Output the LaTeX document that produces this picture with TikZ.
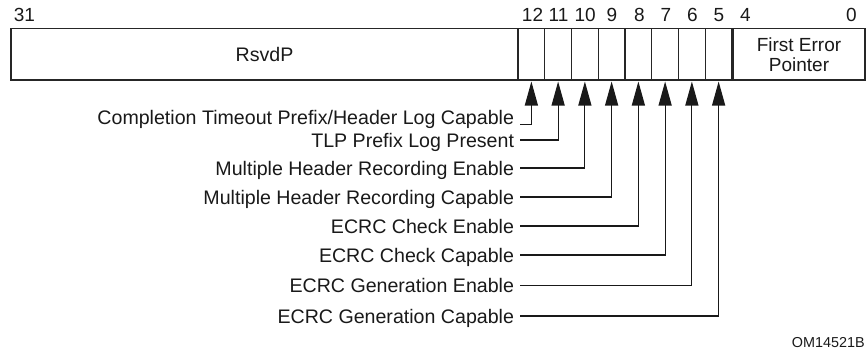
\documentclass[tikz,border=0pt]{standalone}
\usepackage{fontspec}
\setmainfont{Liberation Sans}
\usetikzlibrary{arrows.meta}
\begin{document}
\begin{tikzpicture}[x=1pt,y=-1pt,
  txt/.style={font=\fontsize{19.6}{21}\selectfont, text=black!90},
  lbl/.style={txt, anchor=east, inner xsep=0pt, inner ysep=0pt, outer xsep=6pt, text height=14pt, text depth=0pt},
  num/.style={txt, font=\fontsize{19}{20}\selectfont, inner sep=0pt, text height=13.6pt, text depth=0pt},
  cell/.style={draw=black!85, line width=1.1pt, minimum height=51.5pt, inner sep=0pt, outer sep=0pt},
  bitcell/.style={cell, minimum width=26.75pt},
  arr/.style={draw=black!90, line width=1.2pt, -{Triangle[length=24pt,width=13pt]}, shorten >=1.5pt},
  frame/.style={draw=black!85, line width=1.6pt}
]
\useasboundingbox (0,0) rectangle (867,353);

% register fields
\node[cell, minimum width=507pt, txt] (rsvd) at (264.5,54.25) {RsvdP};
\node[bitcell] (b12) at (531.375,54.25) {};
\node[bitcell] (b11) at (558.125,54.25) {};
\node[bitcell] (b10) at (584.875,54.25) {};
\node[bitcell] (b9)  at (611.625,54.25) {};
\node[bitcell] (b8)  at (638.375,54.25) {};
\node[bitcell] (b7)  at (665.125,54.25) {};
\node[bitcell] (b6)  at (691.875,54.25) {};
\node[bitcell] (b5)  at (718.625,54.25) {};
\node[cell, minimum width=132pt, txt, align=center, font=\fontsize{19}{20}\selectfont] (fep) at (799,54.25) {First Error\\Pointer};
\draw[frame] (rsvd.north west) rectangle (fep.south east);

% bit numbers
\node[num] (n31) at (24.4,15) {31};
\node[num] (n12) at (532.5,15) {12};
\node[num] (n11) at (558.5,15) {11};
\node[num] (n10) at (585.2,15) {10};
\node[num] (n9)  at (612,15) {9};
\node[num] (n8)  at (639.5,15) {8};
\node[num] (n7)  at (666,15) {7};
\node[num] (n6)  at (692.5,15) {6};
\node[num] (n5)  at (719,15) {5};
\node[num] (n4)  at (745.4,15) {4};
\node[num] (n0)  at (851.5,15) {0};

% labels
\node[lbl] (l12) at (520,117.5) {Completion Timeout Prefix/Header Log Capable};
\node[lbl] (l11) at (520,140) {TLP Prefix Log Present};
\node[lbl] (l10) at (520,168) {Multiple Header Recording Enable};
\node[lbl] (l9)  at (520,197) {Multiple Header Recording Capable};
\node[lbl] (l8)  at (520,226) {ECRC Check Enable};
\node[lbl] (l7)  at (520,255) {ECRC Check Capable};
\node[lbl] (l6)  at (520,285.5) {ECRC Generation Enable};
\node[lbl] (l5)  at (520,316) {ECRC Generation Capable};

% connectors
\draw[arr] (l12.south east) -| (b12.south);
\draw[arr] (l11.east) -| (b11.south);
\draw[arr] (l10.east) -| (b10.south);
\draw[arr] (l9.east)  -| (b9.south);
\draw[arr] (l8.east)  -| (b8.south);
\draw[arr] (l7.east)  -| (b7.south);
\draw[arr] (l6.east)  -| (b6.south);
\draw[arr] (l5.east)  -| (b5.south);

% figure id
\node[txt, font=\fontsize{14.4}{16}\selectfont, anchor=east, inner sep=0pt] (figid) at (865,343) {OM14521B};
\end{tikzpicture}
\end{document}
